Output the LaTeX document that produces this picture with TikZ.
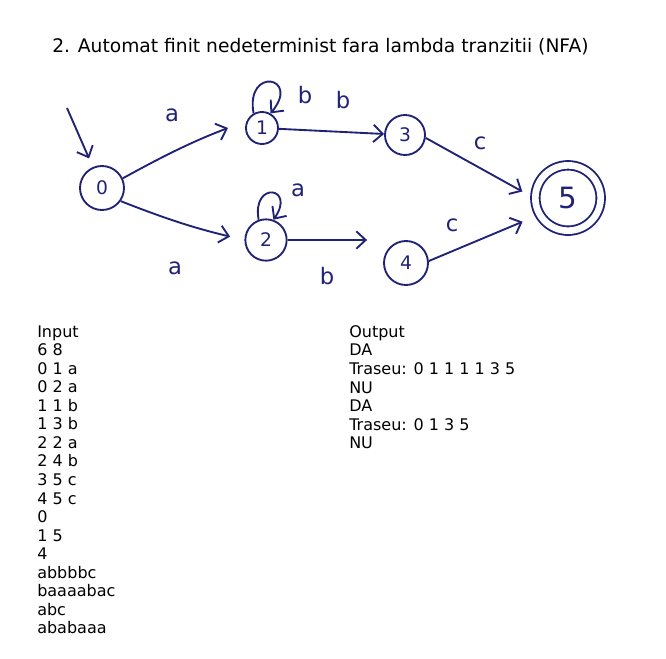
\documentclass[tikz,border=0pt]{standalone}
\usepackage{fontspec}
\setmainfont{DejaVu Sans}
\usepackage{tikz}
\usetikzlibrary{automata,positioning}
\usetikzlibrary{arrows.meta}
\definecolor{ink}{RGB}{32,34,118}

\begin{document}
\begin{tikzpicture}[x=0.75pt,y=-0.75pt,>={Straight Barb[length=7pt,width=13pt]},
    hand/.style={draw=ink, line width=1.4pt},
    st/.style={state, hand, fill=none, inner sep=0pt, text=ink, font=\fontsize{14}{14}\selectfont},
    lbl/.style={text=ink, inner sep=0pt, font=\fontsize{17}{17}\selectfont}]
\useasboundingbox (0,0) rectangle (666,658);

%Title
\node[anchor=base west, inner sep=0pt, font=\fontsize{14}{17}\selectfont] (title) at (52,52) {
    2. Automat finit nedeterminist fara lambda tranzitii (NFA)
    };

%States
\node[st, minimum size=33pt] (q0) at (102,188) {0};
\node[st, minimum size=24pt] (q1) at (262,128) {1};
\node[st, minimum size=31pt] (q2) at (266,240) {2};
\node[st, minimum size=30pt] (q3) at (405,135) {3};
\node[st, minimum size=33pt] (q4) at (406,263) {4};
\node[st, accepting, minimum size=49pt, double distance=5pt,
font=\fontsize{22}{22}\selectfont] (q5) at (568,198) {5};

%start arrow
\coordinate (init) at (67,108);
\draw[->, hand, shorten >=7pt] (init) -- (q0);

%Paths
%0 to 1
\draw[->, hand, shorten >=15pt] (q0.25) to[bend left=4] (q1.155);
%0 to 2
\draw[->, hand, shorten >=11pt] (q0.-35) to[bend right=4] (q2.west);
%1 loop
\draw[->, hand] (q1.120) to[out=100, in=50, distance=36pt] (q1.60);
%1 to 3
\draw[->, hand] (q1) -- (q3);
%2 loop
\draw[->, hand] (q2.110) to[out=100, in=55, distance=30pt] (q2.70);
%2 to 4
\draw[->, hand, shorten >=12pt] (q2.east) -- (q2.east-|q4.west);
%3 to 5
\draw[->, hand, shorten >=10pt] (q3.-8) -- (q5.west);
%4 to 5
\draw[->, hand, shorten >=13pt] (q4.5) -- (q5.210);

%Labels
\node[lbl] (a01) at (172,115) {a};
\node[lbl] (a02) at (175,268) {a};
\node[lbl] (b11) at (305,95) {b};
\node[lbl] (b13) at (343,100) {b};
\node[lbl] (a22) at (298,190) {a};
\node[lbl] (b24) at (327,276) {b};
\node[lbl] (c35) at (480,143) {c};
\node[lbl] (c45) at (452,225) {c};

%Input
\node[anchor=north west, inner sep=0pt, align=left, font=\fontsize{12}{13.9}\selectfont] (input) at (37,325.3) {
    Input\\
    6 8\\
    0 1 a\\
    0 2 a\\
    1 1 b\\
    1 3 b\\
    2 2 a\\
    2 4 b\\
    3 5 c\\
    4 5 c\\
    0\\
    1 5\\
    4\\
    abbbbc\\
    baaaabac\\
    abc\\
    ababaaa
    };

%Output
\node[anchor=north west, inner sep=0pt, align=left, font=\fontsize{12}{13.9}\selectfont] (output) at (349,325.3) {
    Output\\
    DA\\
    Traseu: 0 1 1 1 1 3 5\\
    NU\\
    DA\\
    Traseu: 0 1 3 5\\
    NU
    };

\end{tikzpicture}
\end{document}
